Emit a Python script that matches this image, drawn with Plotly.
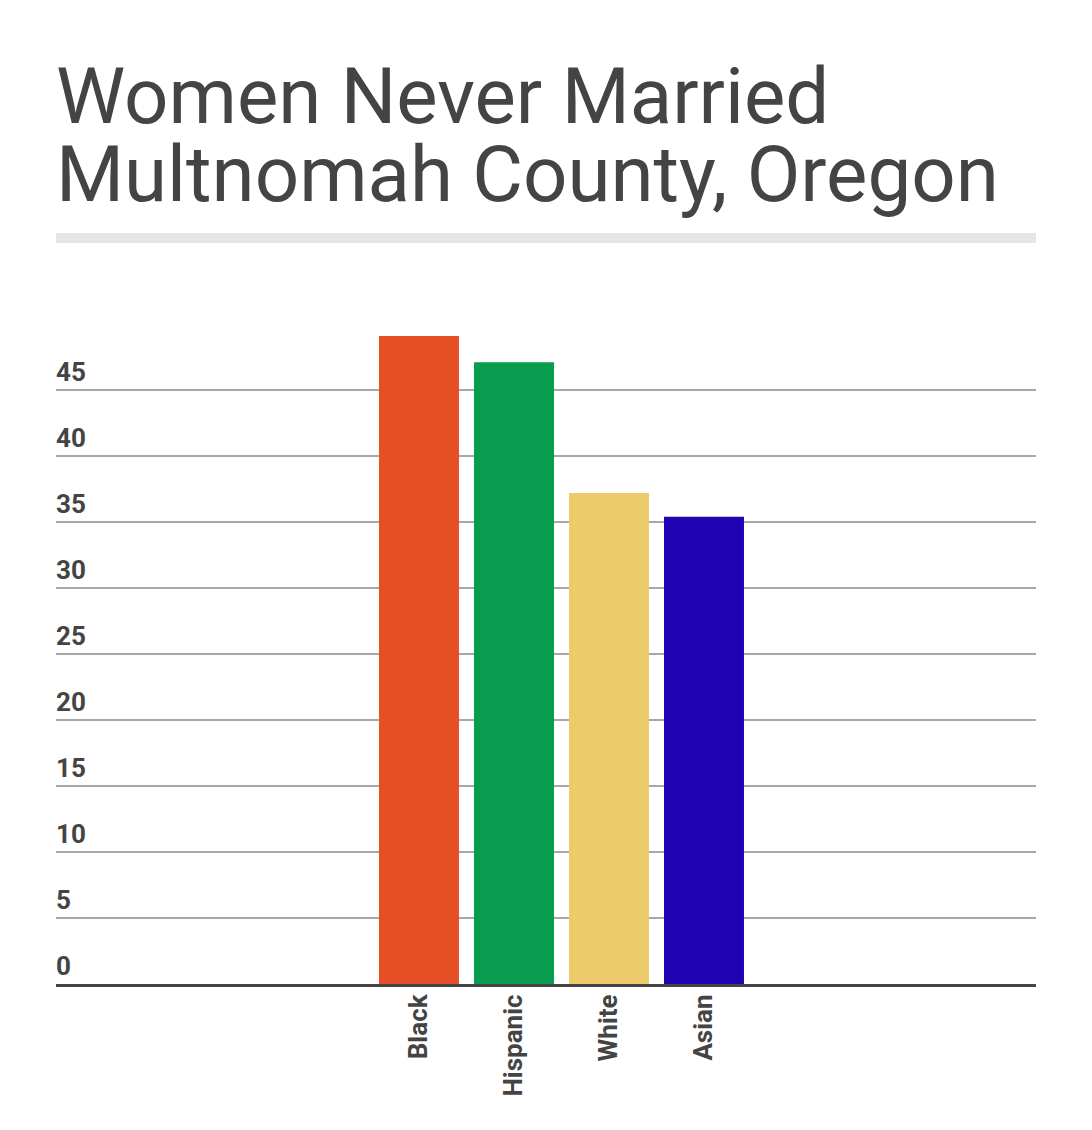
import plotly.graph_objects as go

categories = ["Black", "Hispanic", "White", "Asian"]
values = [49.1, 47.1, 37.2, 35.4]
colors = ["#E44F25", "#079C4E", "#EECB6A", "#2004B4"]
y_ticks = [0, 5, 10, 15, 20, 25, 30, 35, 40, 45]
title_lines = ["Women Never Married", "Multnomah County, Oregon"]

OFF = 8  # default page body margin
W, H = 1092 - 2 * OFF, 1130 - 2 * OFF
ML, MR, MT, MB = 56 - OFF, 1092 - OFF - 1036, 324 - OFF, (1130 - OFF) - 984
plot_h = H - MT - MB

def py(pix):
    # pix is a page pixel position
    return (H - MB - (pix - OFF)) / plot_h

fig = go.Figure(go.Bar(
    x=categories, y=values, marker=dict(color=colors, line=dict(width=0)),
    hoverinfo="x+y",
))

annotations = []
for t in y_ticks:
    annotations.append(dict(
        x=0, xref="paper", xanchor="left", xshift=-2,
        y=t, yref="y", yanchor="middle", yshift=18,
        text=str(t), showarrow=False,
        font=dict(family="Roboto", size=26, color="#444444", weight="bold"),
    ))
for line, cy in zip(title_lines, [96.7, 174.7]):
    annotations.append(dict(
        x=0, xref="paper", xanchor="left", xshift=-2,
        y=py(cy), yref="paper", yanchor="middle",
        text=line, showarrow=False,
        font=dict(family="Roboto", size=78, color="#444444"),
    ))

fig.update_layout(
    width=W, height=H,
    margin=dict(l=ML, r=MR, t=MT, b=MB),
    paper_bgcolor="white", plot_bgcolor="white",
    showlegend=False, bargap=0.158,
    annotations=annotations,
    shapes=[dict(type="rect", xref="paper", yref="paper", x0=0, x1=1,
                 y0=py(243), y1=py(233), fillcolor="#E6E6E6", line=dict(width=0))],
    xaxis=dict(
        range=[-3.821, 6.495], showgrid=False, showline=True,
        linecolor="#444444", linewidth=3, ticks="", tickangle=-90,
        ticklabelstandoff=-3,
        tickfont=dict(family="Roboto", size=26, color="#444444", weight="bold"),
        zeroline=False,
    ),
    yaxis=dict(
        range=[0, 50], tickvals=y_ticks, showticklabels=False,
        showgrid=True, gridcolor="#A8A8A8", gridwidth=2,
        zeroline=False, showline=False,
    ),
)

fig.write_html("out.html")
